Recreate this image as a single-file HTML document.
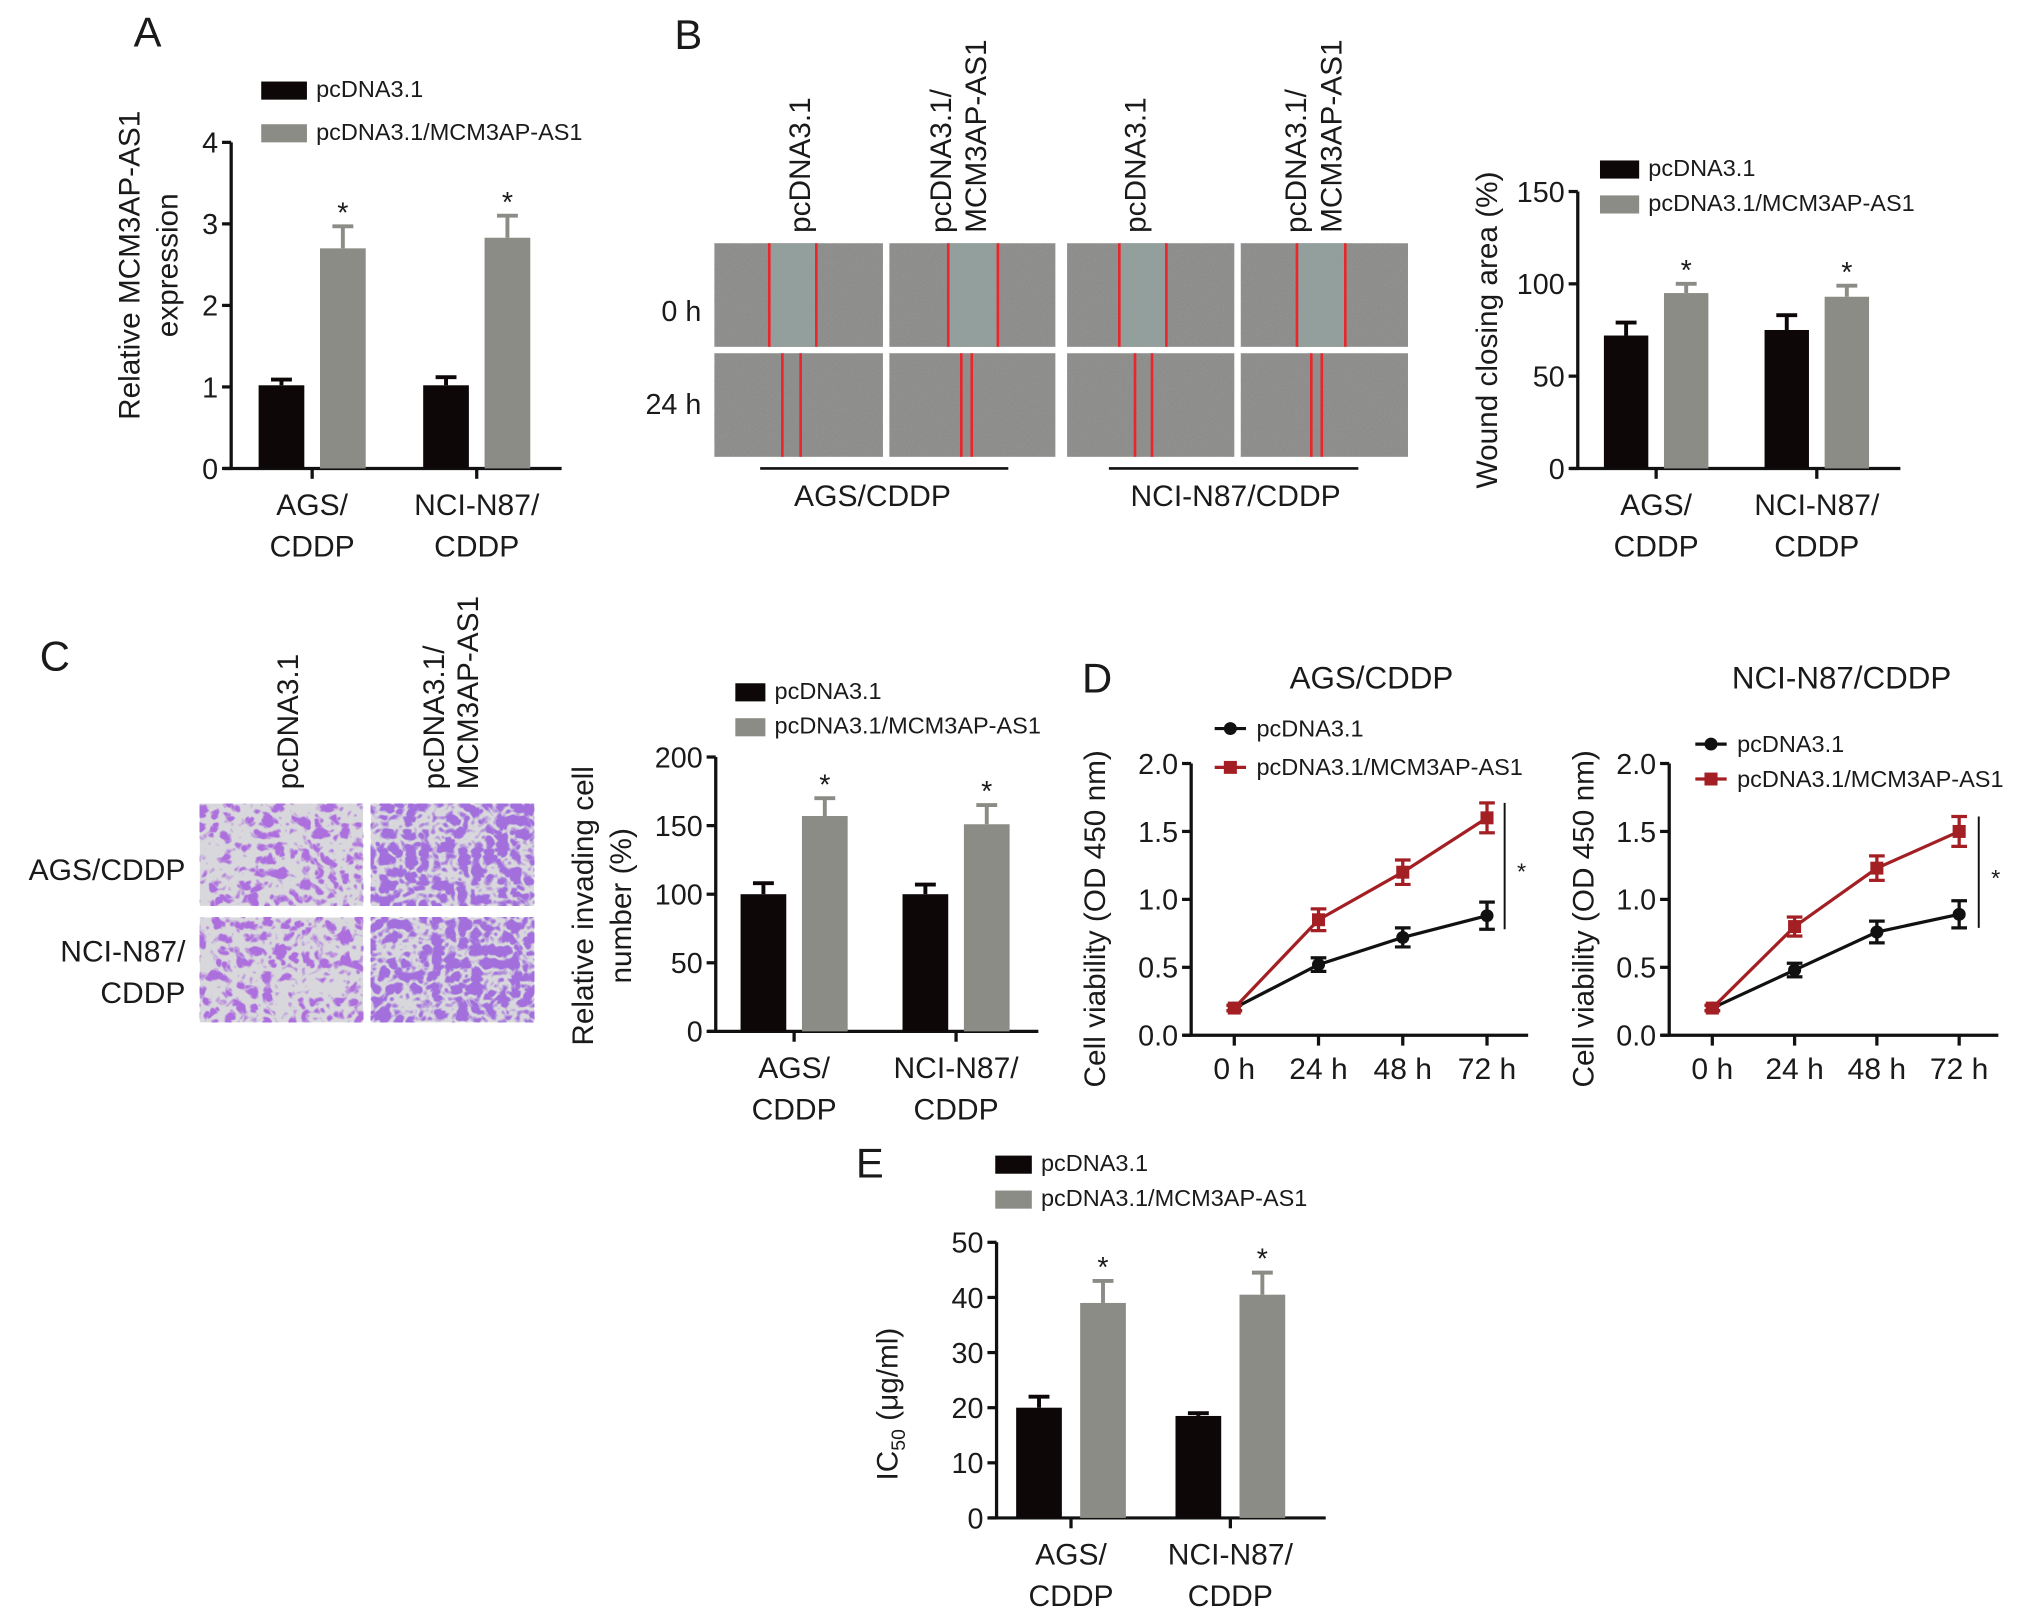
<!DOCTYPE html>
<html><head><meta charset="utf-8">
<style>
html,body{margin:0;padding:0;background:#fff;}
svg{display:block;}
text{font-family:"Liberation Sans",sans-serif;fill:#1a1a1a;}
</style></head>
<body>
<svg id="fig" width="2031" height="1615" viewBox="0 0 1555 1248" preserveAspectRatio="none" xmlns="http://www.w3.org/2000/svg">
<defs>
<filter id="noise" x="0" y="0" width="100%" height="100%">
<feTurbulence type="fractalNoise" baseFrequency="0.9" numOctaves="2" seed="3"/>
<feColorMatrix type="matrix" values="0 0 0 0 0.35  0 0 0 0 0.35  0 0 0 0 0.35  0 0 0 0.6 -0.1"/>
</filter>
<filter id="purple" x="0" y="0" width="100%" height="100%">
<feTurbulence type="turbulence" baseFrequency="0.1" numOctaves="2" seed="7"/>
<feColorMatrix type="matrix" values="0 0 0 0 0.42  0 0 0 0 0.16  0 0 0 0 0.72  5 0 0 0 -1.1"/>
</filter>
<filter id="purple2" x="0" y="0" width="100%" height="100%">
<feTurbulence type="turbulence" baseFrequency="0.1" numOctaves="2" seed="11"/>
<feColorMatrix type="matrix" values="0 0 0 0 0.36  0 0 0 0 0.16  0 0 0 0 0.72  5 0 0 0 -0.6"/>
</filter>
</defs>
<g id="root"></g>
</svg>
<script>
// ---------- data ----------
const groupsCat = ["AGS/CDDP", "NCI-N87/CDDP"];
const aCtrl = [1.02, 1.02];
const aCtrlErr = [0.07, 0.10];
const aOver = [2.70, 2.83];
const aOverErr = [0.27, 0.27];
const aTicks = [0, 1, 2, 3, 4];

const bCtrl = [72, 75];
const bCtrlErr = [7, 8];
const bOver = [95, 93];
const bOverErr = [5, 6];
const bTicks = [0, 50, 100, 150];

const cCtrl = [100, 100];
const cCtrlErr = [8, 7];
const cOver = [157, 151];
const cOverErr = [13, 14];
const cTicks = [0, 50, 100, 150, 200];

const eCtrl = [20, 18.5];
const eCtrlErr = [2, 0.5];
const eOver = [39, 40.5];
const eOverErr = [4, 4];
const eTicks = [0, 10, 20, 30, 40, 50];

const timeCats = ["0 h", "24 h", "48 h", "72 h"];
const dTicks = [0.0, 0.5, 1.0, 1.5, 2.0];
const dAgsCtrl = [0.20, 0.52, 0.72, 0.88];
const dAgsCtrlErr = [0.02, 0.05, 0.07, 0.10];
const dAgsOver = [0.20, 0.85, 1.20, 1.60];
const dAgsOverErr = [0.02, 0.08, 0.09, 0.11];
const dNciCtrl = [0.20, 0.48, 0.76, 0.89];
const dNciCtrlErr = [0.02, 0.05, 0.08, 0.10];
const dNciOver = [0.20, 0.80, 1.23, 1.50];
const dNciOverErr = [0.02, 0.07, 0.09, 0.11];

// ---------- helpers ----------
const NS = "http://www.w3.org/2000/svg";
const root = document.getElementById("root");
function mk(tag, attrs, parent) {
  const e = document.createElementNS(NS, tag);
  for (const k in attrs) e.setAttribute(k, attrs[k]);
  (parent || root).appendChild(e);
  return e;
}
function txt(s, x, y, size, anchor, parent, rot) {
  const t = mk("text", {x: x, y: y, "font-size": size, "text-anchor": anchor || "start"}, parent);
  if (rot) t.setAttribute("transform", "rotate(-90 " + x + " " + y + ")");
  t.textContent = s;
  return t;
}
function grp(name) {
  const g = mk("g", {});
  
  
  return g;
}

function barChart(o) {
  const g = grp(o.name);
  const y = v => o.y0 - (v - o.ticks[0]) / (o.ticks[o.ticks.length - 1] - o.ticks[0]) * (o.y0 - o.yTop);
  const ya = mk("line", {x1: o.ax, y1: o.yTop, x2: o.ax, y2: o.y0, stroke: "#111", "stroke-width": 2.5}, g);
  
  
  const xa = mk("line", {x1: o.ax - 6, y1: o.y0, x2: o.axEnd, y2: o.y0, stroke: "#111", "stroke-width": 2.5}, g);
  
  
  o.ticks.forEach(t => {
    mk("line", {x1: o.ax - 7, y1: y(t), x2: o.ax, y2: y(t), stroke: "#111", "stroke-width": 2.5}, g);
    const tl = txt(String(t), o.ax - 10, y(t) + 8, 22, "end", g);
    
    
  });
  const ser = [[o.ctrl, o.ctrlErr, "#0d0708"], [o.over, o.overErr, "#8c8c86"]];
  o.cats.forEach((c, i) => {
    const cx = o.centers[i];
    mk("line", {x1: cx, y1: o.y0, x2: cx, y2: o.y0 + 8, stroke: "#111", "stroke-width": 2.5}, g);
    const parts = c.split("/");
    const l1 = txt(parts[0] + "/", cx, o.y0 + 36, 23, "middle", g);
    
    
    const l2 = txt(parts[1], cx, o.y0 + 68, 23, "middle", g);
    
    
    ser.forEach((s, k) => {
      const bx = cx + (k === 0 ? -o.gap / 2 - o.bw : o.gap / 2);
      const v = s[0][i], e = s[1][i];
      const r = mk("rect", {x: bx, y: y(v), width: o.bw, height: o.y0 - y(v), fill: s[2]}, g);
      
      
      const m = bx + o.bw / 2;
      mk("line", {x1: m, y1: y(v), x2: m, y2: y(v + e), stroke: s[2], "stroke-width": 3}, g);
      mk("line", {x1: m - 8, y1: y(v + e), x2: m + 8, y2: y(v + e), stroke: s[2], "stroke-width": 3}, g);
      if (k === 1) {
        const st = txt("*", m, y(v + e) - 3, 22, "middle", g);
        
        
      }
    });
  });
  const lg = grp(o.name + "-legend");
  const l1r = mk("rect", {x: o.lx, y: o.ly, width: o.lw, height: 14, fill: "#0d0708"}, lg);
  
  
  txt("pcDNA3.1", o.lx + o.lw + 7, o.ly + 12, 18, "start", lg);
  const l2r = mk("rect", {x: o.lx, y: o.ly + o.lgap, width: o.lw, height: 14, fill: "#8c8c86"}, lg);
  
  
  txt("pcDNA3.1/MCM3AP-AS1", o.lx + o.lw + 7, o.ly + o.lgap + 12, 18, "start", lg);
  o.title.forEach((line, i) => {
    const t = txt(line, o.tx + i * 29, o.ty, 23, "middle", g, true);
    
    
  });
}

function lineChart(o) {
  const g = grp(o.name);
  const y = v => o.y0 - (v - o.ticks[0]) / (o.ticks[o.ticks.length - 1] - o.ticks[0]) * (o.y0 - o.yTop);
  const x = i => o.x0 + i * o.dx;
  const ya = mk("line", {x1: o.ax, y1: o.yTop, x2: o.ax, y2: o.y0, stroke: "#111", "stroke-width": 2.5}, g);
  
  
  const xa = mk("line", {x1: o.ax - 6, y1: o.y0, x2: o.axEnd, y2: o.y0, stroke: "#111", "stroke-width": 2.5}, g);
  
  
  o.ticks.forEach(t => {
    mk("line", {x1: o.ax - 7, y1: y(t), x2: o.ax, y2: y(t), stroke: "#111", "stroke-width": 2.5}, g);
    const tl = txt(t.toFixed(1), o.ax - 10, y(t) + 8, 22, "end", g);
    
    
  });
  o.cats.forEach((c, i) => {
    mk("line", {x1: x(i), y1: o.y0, x2: x(i), y2: o.y0 + 8, stroke: "#111", "stroke-width": 2.5}, g);
    const tl = txt(c, x(i), o.y0 + 34, 23, "middle", g);
    
    
  });
  [[o.ctrl, o.ctrlErr, "#111", "circle", "line-control"], [o.over, o.overErr, "#a31f24", "square", "line-overexpression"]].forEach(s => {
    const pts = s[0].map((v, i) => x(i) + "," + y(v)).join(" ");
    const pl = mk("polyline", {points: pts, fill: "none", stroke: s[2], "stroke-width": 2.5}, g);
    
    
    s[0].forEach((v, i) => {
      const e = s[1][i];
      mk("line", {x1: x(i), y1: y(v - e), x2: x(i), y2: y(v + e), stroke: s[2], "stroke-width": 2.5}, g);
      mk("line", {x1: x(i) - 6, y1: y(v + e), x2: x(i) + 6, y2: y(v + e), stroke: s[2], "stroke-width": 2.5}, g);
      mk("line", {x1: x(i) - 6, y1: y(v - e), x2: x(i) + 6, y2: y(v - e), stroke: s[2], "stroke-width": 2.5}, g);
      let p;
      if (s[3] === "circle") p = mk("circle", {cx: x(i), cy: y(v), r: 5, fill: s[2]}, g);
      else p = mk("rect", {x: x(i) - 5, y: y(v) - 5, width: 10, height: 10, fill: s[2]}, g);
      
      
    });
  });
  const last = o.ctrl.length - 1;
  const br = mk("line", {x1: o.brx, y1: y(o.over[last] + o.overErr[last]), x2: o.brx, y2: y(o.ctrl[last] - o.ctrlErr[last]), stroke: "#111", "stroke-width": 1.5}, g);
  
  
  const st = txt("*", o.brx + 13, (y(o.over[last]) + y(o.ctrl[last])) / 2 + 10, 18, "middle", g);
  
  
  const tt = txt(o.title, o.tcx, 532, 24, "middle", g);
  
  
  const yt = txt("Cell viability (OD 450 nm)", o.ytx, 710, 23, "middle", g, true);
  
  
  const lg = grp(o.name + "-legend");
  mk("line", {x1: o.lx, y1: o.ly, x2: o.lx + 24, y2: o.ly, stroke: "#111", "stroke-width": 2.5}, lg);
  mk("circle", {cx: o.lx + 12, cy: o.ly, r: 5, fill: "#111"}, lg);
  txt("pcDNA3.1", o.lx + 32, o.ly + 6, 18, "start", lg);
  mk("line", {x1: o.lx, y1: o.ly + o.lgap, x2: o.lx + 24, y2: o.ly + o.lgap, stroke: "#a31f24", "stroke-width": 2.5}, lg);
  mk("rect", {x: o.lx + 7, y: o.ly + o.lgap - 5, width: 10, height: 10, fill: "#a31f24"}, lg);
  txt("pcDNA3.1/MCM3AP-AS1", o.lx + 32, o.ly + o.lgap + 6, 18, "start", lg);
}

function panelLetter(s, x, y) {
  const t = txt(s, x, y, 32, "middle");
  
  
}

// ---------- Panel A ----------
panelLetter("A", 113, 36);
barChart({name: "panel-a-chart", cats: groupsCat, ctrl: aCtrl, ctrlErr: aCtrlErr, over: aOver, overErr: aOverErr,
  ticks: aTicks, ax: 177, axEnd: 430, y0: 362, yTop: 110, centers: [239, 365], bw: 35, gap: 12,
  lx: 200, ly: 63, lw: 35, lgap: 33, title: ["Relative MCM3AP-AS1", "expression"], tx: 107, ty: 205});

// ---------- Panel B (wound images) ----------
panelLetter("B", 527, 38);
(function () {
  const g = grp("wound-healing-images");
  const cols = [547, 681, 817, 950], cw = [129, 127, 128, 128];
  const rows = [188, 273], rh = 80;
  const red0 = [[589, 625], [726, 764], [857, 893], [993, 1030]];
  const red24 = [[599, 613], [736, 744], [869, 882], [1004, 1012]];
  cols.forEach((cx, c) => {
    rows.forEach((ry, r) => {
      const im = mk("g", {}, g);
      
      
      mk("rect", {x: cx, y: ry, width: cw[c], height: rh, fill: "#8a8a88"}, im);
      const rl = r === 0 ? red0[c] : red24[c];
      if (r === 0) mk("rect", {x: rl[0], y: ry, width: rl[1] - rl[0], height: rh, fill: "#8f9f9b"}, im);
      mk("rect", {x: cx, y: ry, width: cw[c], height: rh, filter: "url(#noise)"}, im);
      rl.forEach(lx => mk("line", {x1: lx, y1: ry, x2: lx, y2: ry + rh, stroke: "#e8262b", "stroke-width": 2}, im));
    });
  });
  txt("0 h", 537, 248, 22, "end", g);
  txt("24 h", 537, 320, 22, "end", g);
  [[620, "pcDNA3.1"], [877, "pcDNA3.1"]].forEach(p => txt(p[1], p[0], 180, 23, "start", g, true));
  [[728, "pcDNA3.1/"], [755, "MCM3AP-AS1"], [1000, "pcDNA3.1/"], [1027, "MCM3AP-AS1"]].forEach(p => txt(p[1], p[0], 180, 23, "start", g, true));
  mk("line", {x1: 582, y1: 362, x2: 772, y2: 362, stroke: "#111", "stroke-width": 2}, g);
  mk("line", {x1: 849, y1: 362, x2: 1040, y2: 362, stroke: "#111", "stroke-width": 2}, g);
  txt("AGS/CDDP", 668, 391, 23, "middle", g);
  txt("NCI-N87/CDDP", 946, 391, 23, "middle", g);
})();
barChart({name: "panel-b-chart", cats: groupsCat, ctrl: bCtrl, ctrlErr: bCtrlErr, over: bOver, overErr: bOverErr,
  ticks: bTicks, ax: 1208, axEnd: 1455, y0: 362, yTop: 148, centers: [1268, 1391], bw: 34, gap: 12,
  lx: 1225, ly: 124, lw: 30, lgap: 27, title: ["Wound closing area (%)"], tx: 1146, ty: 255});

// ---------- Panel C ----------
panelLetter("C", 42, 518);
(function () {
  const g = grp("invasion-images");
  const cols = [153, 284], rows = [621, 709], hh = [79, 81];
  cols.forEach((cx, c) => rows.forEach((ry, r) => {
    const im = mk("g", {}, g);
    
    
    mk("rect", {x: cx, y: ry, width: 125, height: hh[r], fill: "#d8d8dc"}, im);
    mk("rect", {x: cx, y: ry, width: 125, height: hh[r], filter: c === 0 ? "url(#purple)" : "url(#purple2)"}, im);
  }));
  txt("pcDNA3.1", 228, 610, 23, "start", g, true);
  txt("pcDNA3.1/", 340, 610, 23, "start", g, true);
  txt("MCM3AP-AS1", 366, 610, 23, "start", g, true);
  txt("AGS/CDDP", 142, 680, 23, "end", g);
  txt("NCI-N87/", 142, 743, 23, "end", g);
  txt("CDDP", 142, 775, 23, "end", g);
})();
barChart({name: "panel-c-chart", cats: groupsCat, ctrl: cCtrl, ctrlErr: cCtrlErr, over: cOver, overErr: cOverErr,
  ticks: cTicks, ax: 548, axEnd: 795, y0: 797, yTop: 585, centers: [608, 732], bw: 35, gap: 12,
  lx: 563, ly: 528, lw: 23, lgap: 27, title: ["Relative invading cell", "number (%)"], tx: 454, ty: 700});

// ---------- Panel D ----------
panelLetter("D", 840, 535);
lineChart({name: "panel-d-ags-chart", cats: timeCats, ticks: dTicks, ctrl: dAgsCtrl, ctrlErr: dAgsCtrlErr, over: dAgsOver, overErr: dAgsOverErr,
  ax: 912, axEnd: 1170, y0: 800, yTop: 590, x0: 945, dx: 64.5, brx: 1152, title: "AGS/CDDP", tcx: 1050, ytx: 846, lx: 930, ly: 563, lgap: 30});
lineChart({name: "panel-d-nci-chart", cats: timeCats, ticks: dTicks, ctrl: dNciCtrl, ctrlErr: dNciCtrlErr, over: dNciOver, overErr: dNciOverErr,
  ax: 1278, axEnd: 1530, y0: 800, yTop: 590, x0: 1311, dx: 63, brx: 1515, title: "NCI-N87/CDDP", tcx: 1410, ytx: 1220, lx: 1298, ly: 575, lgap: 27});

// ---------- Panel E ----------
panelLetter("E", 666, 910);
barChart({name: "panel-e-chart", cats: groupsCat, ctrl: eCtrl, ctrlErr: eCtrlErr, over: eOver, overErr: eOverErr,
  ticks: eTicks, ax: 763, axEnd: 1015, y0: 1173, yTop: 960, centers: [820, 942], bw: 35, gap: 14,
  lx: 762, ly: 893, lw: 28, lgap: 27, title: [], tx: 687, ty: 1085});
(function () {
  const t = mk("text", {x: 687, y: 1085, "font-size": 23, "text-anchor": "middle", transform: "rotate(-90 687 1085)"});
  
  
  t.appendChild(document.createTextNode("IC"));
  const s = mk("tspan", {"font-size": 15, dy: 6}, t);
  s.textContent = "50";
  const r = mk("tspan", {dy: -6}, t);
  r.textContent = " (μg/ml)";
})();
</script>
</body></html>
